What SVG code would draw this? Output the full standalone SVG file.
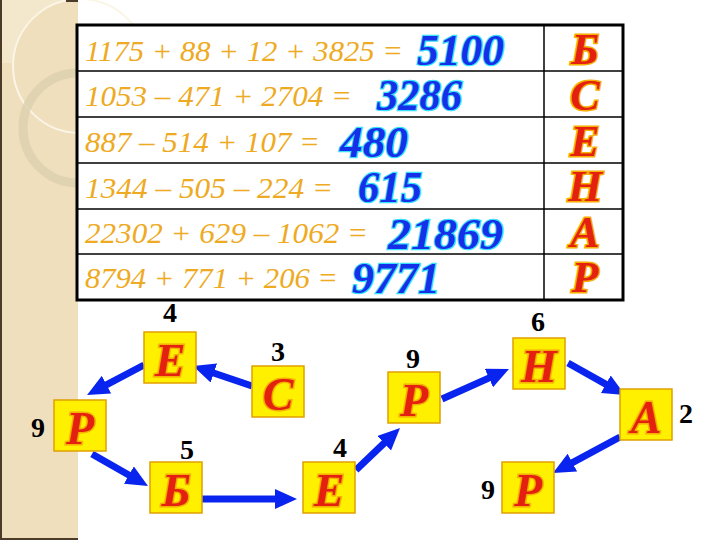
<svg xmlns="http://www.w3.org/2000/svg" width="720" height="540" viewBox="0 0 720 540">
<style>
text{font-family:"Liberation Serif",serif}
.eq{font-style:italic;font-size:30px;fill:#EEAA22}
.ans{font-style:italic;font-weight:bold;font-size:45px;fill:#1530E8;stroke:#38E0F8;stroke-width:2.5;paint-order:stroke}
.let{font-style:italic;font-weight:bold;font-size:44px;fill:#E42010;stroke:#F5B000;stroke-width:3;paint-order:stroke;text-anchor:middle}
.nl{font-size:46px}
.num{font-weight:bold;font-size:28px;fill:#000;text-anchor:middle}
.box{fill:#FFF000;stroke:#E0A000;stroke-width:1.5}
.arr{stroke:#0A24F0;stroke-width:7;fill:none;marker-end:url(#ah)}
</style>
<defs>
<marker id="ah" markerUnits="userSpaceOnUse" markerWidth="24" markerHeight="22" refX="12" refY="10" orient="auto">
<path d="M0,0 L22,10 L0,20 z" fill="#0A24F0"/>
</marker>
</defs>
<rect width="720" height="540" fill="#FFFFFF"/>
<g id="panel">
<rect x="0" y="0" width="78" height="540" fill="#EFDFBD"/>
<path d="M0,0 H66 A67,67 0 0 0 14,63 H0 Z" fill="#F4E8CC"/>
<circle cx="80" cy="66" r="67" fill="none" stroke="#FBF5E6" stroke-width="2"/>
<circle cx="78" cy="128" r="55" fill="none" stroke="#DCCFAE" stroke-width="9" opacity="0.8"/>
<rect x="0" y="0" width="2" height="540" fill="#4A3C28"/>
<rect x="0" y="538" width="78" height="2" fill="#4A3C28"/>
<rect x="66" y="0" width="12" height="2" fill="#4A3C28"/>
</g>
<g id="table">
<rect x="77" y="25" width="546" height="275" fill="#FFFFFF" stroke="#000" stroke-width="3"/>
<line x1="544" y1="25" x2="544" y2="300" stroke="#000" stroke-width="1.5"/>
<g stroke="#000" stroke-width="1.5">
<line x1="77" y1="71" x2="623" y2="71"/>
<line x1="77" y1="117" x2="623" y2="117"/>
<line x1="77" y1="163" x2="623" y2="163"/>
<line x1="77" y1="209" x2="623" y2="209"/>
<line x1="77" y1="254" x2="623" y2="254"/>
</g>
<text class="eq" x="85" y="61" textLength="318" lengthAdjust="spacingAndGlyphs">1175 + 88 + 12 + 3825 =</text>
<text class="eq" x="85" y="106" textLength="267" lengthAdjust="spacingAndGlyphs">1053 – 471 + 2704 =</text>
<text class="eq" x="85" y="152" textLength="235" lengthAdjust="spacingAndGlyphs">887 – 514 + 107 =</text>
<text class="eq" x="85" y="198" textLength="248" lengthAdjust="spacingAndGlyphs">1344 – 505 – 224 =</text>
<text class="eq" x="85" y="243" textLength="283" lengthAdjust="spacingAndGlyphs">22302 + 629 – 1062 =</text>
<text class="eq" x="85" y="288" textLength="253" lengthAdjust="spacingAndGlyphs">8794 + 771 + 206 =</text>
<text class="ans" x="417" y="65" textLength="87" lengthAdjust="spacingAndGlyphs">5100</text>
<text class="ans" x="377" y="110" textLength="85" lengthAdjust="spacingAndGlyphs">3286</text>
<text class="ans" x="340" y="157" textLength="68" lengthAdjust="spacingAndGlyphs">480</text>
<text class="ans" x="358" y="202" textLength="64" lengthAdjust="spacingAndGlyphs">615</text>
<text class="ans" x="388" y="249" textLength="115" lengthAdjust="spacingAndGlyphs">21869</text>
<text class="ans" x="352" y="293" textLength="88" lengthAdjust="spacingAndGlyphs">9771</text>
<text class="let" x="585" y="64">Б</text>
<text class="let" x="585" y="110">С</text>
<text class="let" x="585" y="156">Е</text>
<text class="let" x="585" y="201">Н</text>
<text class="let" x="585" y="247">А</text>
<text class="let" x="585" y="292">Р</text>
</g>
<g id="connectors">
<line class="arr" x1="252" y1="386" x2="202.5" y2="369.2"/>
<line class="arr" x1="144" y1="365" x2="95.9" y2="390.3"/>
<line class="arr" x1="92" y1="454" x2="139.3" y2="481"/>
<line class="arr" x1="202" y1="499" x2="287" y2="499"/>
<line class="arr" x1="356" y1="470" x2="392.8" y2="434.9"/>
<line class="arr" x1="442" y1="399" x2="499.9" y2="373.1"/>
<line class="arr" x1="568" y1="363" x2="616.3" y2="390.1"/>
<line class="arr" x1="620" y1="437" x2="561.8" y2="468.3"/>
</g>
<g id="n-e1"><rect class="box" x="144" y="332" width="52" height="51"/><text class="let nl" x="170" y="376">Е</text><text class="num" x="170" y="322">4</text></g>
<g id="n-c"><rect class="box" x="252" y="366" width="52" height="51"/><text class="let nl" x="278" y="410">С</text><text class="num" x="278" y="361">3</text></g>
<g id="n-p1"><rect class="box" x="54" y="400" width="52" height="51"/><text class="let nl" x="80" y="444">Р</text><text class="num" x="38" y="437">9</text></g>
<g id="n-b"><rect class="box" x="150" y="462" width="52" height="51"/><text class="let nl" x="176" y="506">Б</text><text class="num" x="187" y="459">5</text></g>
<g id="n-e2"><rect class="box" x="303" y="462" width="52" height="51"/><text class="let nl" x="329" y="506">Е</text><text class="num" x="340" y="457">4</text></g>
<g id="n-p2"><rect class="box" x="388" y="372" width="52" height="51"/><text class="let nl" x="414" y="416">Р</text><text class="num" x="413" y="368">9</text></g>
<g id="n-h"><rect class="box" x="513" y="338" width="52" height="51"/><text class="let nl" x="539" y="382">Н</text><text class="num" x="538" y="331">6</text></g>
<g id="n-a"><rect class="box" x="620" y="389" width="52" height="51"/><text class="let nl" x="646" y="433">А</text><text class="num" x="686" y="423">2</text></g>
<g id="n-p3"><rect class="box" x="502" y="462" width="52" height="51"/><text class="let nl" x="528" y="506">Р</text><text class="num" x="488" y="499">9</text></g>
</svg>
